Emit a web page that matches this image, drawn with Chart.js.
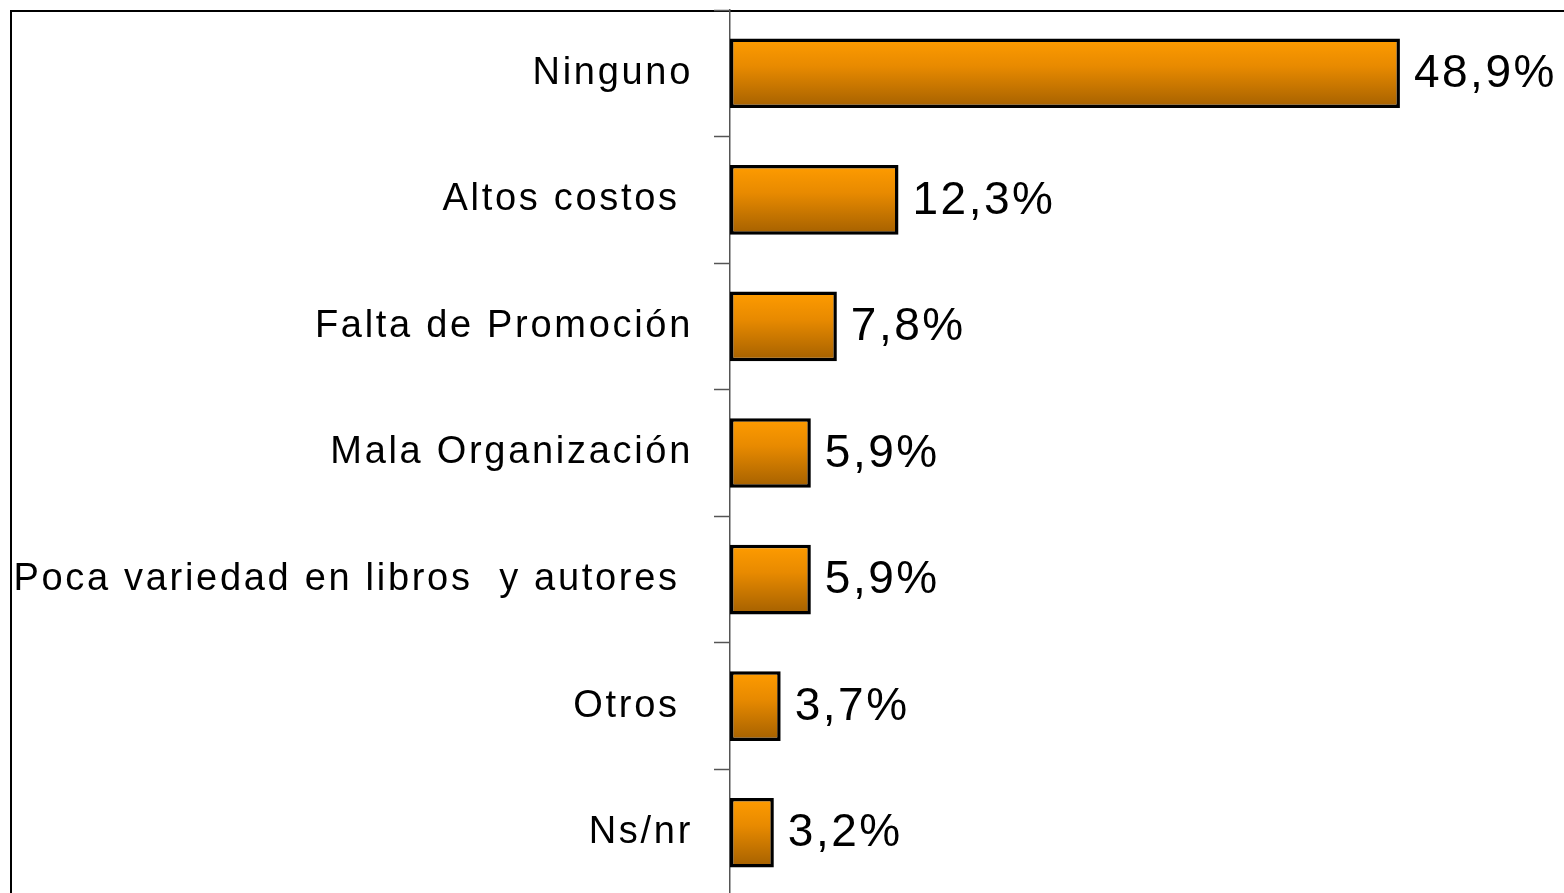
<!DOCTYPE html>
<html>
<head>
<meta charset="utf-8">
<script src="https://cdn.jsdelivr.net/npm/chart.js@4"></script>
<style>
html,body{margin:0;padding:0;background:#fff;overflow:hidden;}
#wrap{width:1564px;height:896px;}
</style>
</head>
<body>
<div id="wrap"><canvas id="chart" width="1564" height="896"></canvas></div>
<script>
window.addEventListener("load", () => {

const labels = ["Ninguno", "Altos costos ", "Falta de Promoción", "Mala Organización", "Poca variedad en libros  y autores ", "Otros ", "Ns/nr"];
const values = [48.9, 12.3, 7.8, 5.9, 5.9, 3.7, 3.2];
const X_MAX = 60;

const FONT = "'Liberation Sans', Arial, sans-serif";
const BAR_PCT = 0.55;

/* ========= PLUGINS ========= */

// labels in the reference are spaced out a bit
const spacing = {
id: "spacing",
beforeUpdate(chart){ chart.ctx.letterSpacing = "2.7px"; },
beforeDraw(chart){ chart.ctx.letterSpacing = "2.7px"; }
};

const frame = {
id: "frame",
beforeDraw(chart){
const c = chart.ctx;
c.save();
c.fillStyle = "#fff";
c.fillRect(0, 0, chart.width, chart.height);
c.strokeStyle = "#000";
c.lineWidth = 2;
c.beginPath();
c.moveTo(chart.width, 11);
c.lineTo(11, 11);
c.lineTo(11, chart.height);
c.stroke();
c.restore();
}
};

const valueLabels = {
id: "valueLabels",
afterDatasetsDraw(chart){
const c = chart.ctx;
const meta = chart.getDatasetMeta(0);
c.save();
c.font = "46px " + FONT;
c.letterSpacing = "2.5px";
c.fillStyle = "#000";
c.textAlign = "left";
c.textBaseline = "middle";
meta.data.forEach((bar, i) => {
c.fillText(values[i].toFixed(1).replace(".", ",") + "%", bar.x + 14, bar.y + 1);
});
c.restore();
}
};

/* ========= GRADIENT ========= */

function barFill(ctx){
const chart = ctx.chart;
const y = chart.scales.y;
if(!y || y.top === undefined) return "#e88a00";
const mid = y.getPixelForValue(ctx.dataIndex);
const half = (y.height / labels.length) * BAR_PCT / 2;
const g = chart.ctx.createLinearGradient(0, mid - half, 0, mid + half);
g.addColorStop(0, "#ff9c00");
g.addColorStop(0.4, "#e88a00");
g.addColorStop(1, "#a46000");
return g;
}

/* ========= CHART ========= */

new Chart(document.getElementById("chart"), {
type: "bar",
data: {
labels: labels,
datasets: [{
data: values,
backgroundColor: barFill,
borderColor: "#000",
borderWidth: 3.5,
borderSkipped: false,
categoryPercentage: 1,
barPercentage: BAR_PCT
}]
},
options: {
indexAxis: "y",
responsive: false,
animation: false,
events: [],
layout: { padding: { left: 10, top: 10, right: 12, bottom: 0 } },
plugins: {
legend: { display: false },
tooltip: { enabled: false }
},
scales: {
x: {
display: false,
min: 0,
max: X_MAX
},
y: {
afterFit(s){
s.width = 720;
s.paddingTop = 0;
s.paddingBottom = 0;
},
grid: {
drawOnChartArea: false,
drawTicks: true,
tickLength: 16,
tickColor: "#555",
tickWidth: 1.5,
offset: true
},
border: { display: true, color: "#555", width: 1.5 },
ticks: {
color: "#000",
padding: 21,
font: { family: FONT, size: 38 }
}
}
}
},
plugins: [spacing, frame, valueLabels]
});

});
</script>
</body>
</html>
